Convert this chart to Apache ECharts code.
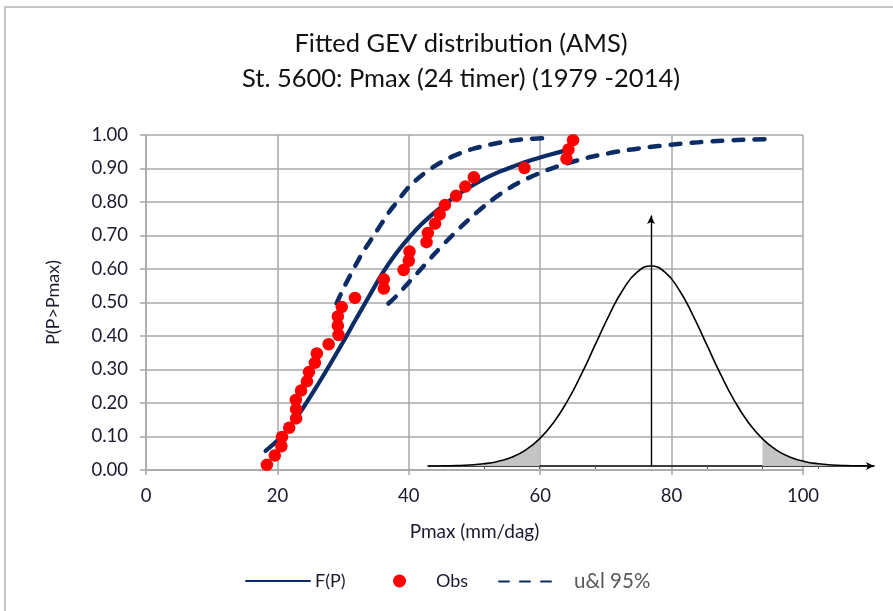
<!DOCTYPE html>
<html>
<head>
<meta charset="utf-8">
<script src="https://cdn.jsdelivr.net/npm/echarts@6/dist/echarts.min.js"></script>
<style>
html,body{margin:0;padding:0;background:#fff;}
#c{width:893px;height:611px;}
</style>
</head>
<body>
<div id="c"></div>
<script>
// ---- data ----
const titleLines = ['Fitted GEV distribution (AMS)', 'St. 5600: Pmax (24 timer) (1979 -2014)'];
const xTicks = [0, 20, 40, 60, 80, 100];

// Observations (Pmax mm/dag, plotting position)
const obsX = [18.4,19.6,20.6,20.7,21.8,22.85,22.85,22.8,23.6,24.5,24.8,25.7,26.0,27.8,29.3,29.2,29.2,29.8,31.8,36.2,36.2,39.2,40.0,40.1,42.7,42.9,44.0,44.7,45.5,47.2,48.6,49.9,57.6,64.0,64.3,65.0];
const obsP = [0.0155,0.0432,0.0709,0.0986,0.1262,0.1539,0.1816,0.2093,0.2370,0.2647,0.2924,0.3200,0.3477,0.3754,0.4031,0.4308,0.4585,0.4862,0.5138,0.5415,0.5692,0.5969,0.6246,0.6523,0.6800,0.7076,0.7353,0.7630,0.7907,0.8184,0.8461,0.8738,0.9014,0.9291,0.9568,0.9845];

// Fitted curve F(P)
const fitX = [18.2,20,22,24,26,28,30,32,34,36,38,40,42,44,46,48,50,52,54,56,58,60,62,64];
const fitP = [0.057,0.088,0.133,0.188,0.25,0.315,0.382,0.452,0.52,0.588,0.645,0.693,0.735,0.77,0.801,0.829,0.853,0.874,0.892,0.907,0.921,0.933,0.944,0.954];

// Upper 95% bound
const upX = [29.0,30,31,32,33,34,35,36,37,38,40,42,44,46,48,50,52,54,56,58,60.3];
const upP = [0.497,0.54,0.578,0.615,0.65,0.68,0.71,0.74,0.77,0.795,0.845,0.88,0.908,0.93,0.947,0.96,0.97,0.978,0.984,0.988,0.99];

// Lower 95% bound
const loX = [36.9,38,40,42,44,46,48,50,52,54,56,58,60,62,64,66,68,70,72,75,78,81,84,87,90,95];
const loP = [0.497,0.517,0.56,0.603,0.647,0.688,0.727,0.763,0.796,0.825,0.85,0.87,0.887,0.902,0.915,0.926,0.936,0.944,0.951,0.96,0.967,0.973,0.978,0.982,0.985,0.988];

// Inset bell curve (offset in sigma, relative height)
const bellZ = [-4,-3.75,-3.5,-3.25,-3,-2.75,-2.5,-2.25,-2,-1.75,-1.5,-1.25,-1,-0.75,-0.5,-0.25,0,0.25,0.5,0.75,1,1.25,1.5,1.75,2,2.25,2.5,2.75,3,3.25,3.5,3.75,4];
const bellH = [0.0003,0.0009,0.0022,0.0051,0.0111,0.0228,0.0439,0.0796,0.1353,0.2163,0.3247,0.4578,0.6065,0.7548,0.8825,0.9692,1,0.9692,0.8825,0.7548,0.6065,0.4578,0.3247,0.2163,0.1353,0.0796,0.0439,0.0228,0.0111,0.0051,0.0022,0.0009,0.0003];
const tailLimit = 2;
const bellTicks = [-3,-2,-1,1,2,3];

// ---- build ----
const zip = (a, b) => a.map((v, i) => [v, b[i]]);
const bell = zip(bellZ, bellH);
const leftTail = bell.filter(d => d[0] <= -tailLimit);
const rightTail = bell.filter(d => d[0] >= tailLimit);

const NAVY = '#0C2C66';
const FONT = 'Lato';
const GRID = '#a8a8a8';
const TXT = '#1a1a2e';

const chart = echarts.init(document.getElementById('c'), null, {renderer: 'canvas'});
const dashed = {color: NAVY, width: 4.5, type: [10, 11], cap: 'round'};
const hideSym = {opacity: 0};

chart.setOption({
  animation: false,
  backgroundColor: '#fff',
  title: {
    text: titleLines.join('\n'),
    left: 456, top: 21, textAlign: 'center',
    textStyle: {fontFamily: FONT, fontSize: 25.5, fontWeight: 'normal', color: '#111', lineHeight: 35}
  },
  graphic: [{
    type: 'rect', silent: true, z: -1,
    shape: {x: 5, y: 7, width: 1000, height: 1000},
    style: {fill: 'none', stroke: '#b4b4b4', lineWidth: 1.5}
  }],
  legend: [
    {data: [{name: 'F(P)', itemStyle: hideSym}], left: 240, top: 567, itemWidth: 64, itemHeight: 14,
     textStyle: {fontFamily: FONT, fontSize: 18, color: TXT}},
    {data: [{name: 'Obs', icon: 'circle'}], left: 388, top: 567, itemWidth: 63, itemHeight: 13,
     itemStyle: {opacity: 1},
     textStyle: {fontFamily: FONT, fontSize: 18, color: TXT}},
    {data: [{name: 'u&l 95%', itemStyle: hideSym}], left: 493, top: 566, itemWidth: 58, itemHeight: 14,
     textStyle: {fontFamily: FONT, fontSize: 20.5, color: '#595959', padding: [0, 0, 0, 12]}}
  ],
  grid: [
    {left: 146, right: 90, top: 135, bottom: 141, containLabel: false},
    {left: 428, right: 19, top: 216, bottom: 145, containLabel: false}
  ],
  xAxis: [{
    type: 'value', gridIndex: 0, min: xTicks[0], max: xTicks[xTicks.length - 1], interval: 20,
    name: 'Pmax (mm/dag)', nameLocation: 'middle', nameGap: 52,
    nameTextStyle: {fontFamily: FONT, fontSize: 19, color: TXT},
    axisLine: {show: true, onZero: false, lineStyle: {color: GRID, width: 1.5}},
    axisTick: {show: true, length: 5, lineStyle: {color: GRID, width: 1.5}},
    axisLabel: {fontFamily: FONT, fontSize: 18.5, color: TXT, margin: 17},
    splitLine: {show: true, lineStyle: {color: GRID, width: 1.5}}
  }, {
    type: 'value', gridIndex: 1, min: -4, max: 4,
    axisLine: {show: true, onZero: false, symbol: ['none', 'arrow'], symbolSize: [6, 8],
               lineStyle: {color: '#000', width: 1.6}},
    axisTick: {show: true, length: 3, customValues: bellTicks, lineStyle: {color: '#555', width: 1}},
    axisLabel: {show: false},
    splitLine: {show: false}
  }],
  yAxis: [{
    type: 'value', gridIndex: 0, min: 0, max: 1, interval: 0.1,
    name: 'P(P>Pmax)', nameLocation: 'middle', nameGap: 84, nameRotate: 90,
    nameTextStyle: {fontFamily: FONT, fontSize: 18, color: TXT},
    axisLine: {show: true, onZero: false, lineStyle: {color: GRID, width: 1.5}},
    axisTick: {show: true, length: 6, lineStyle: {color: GRID, width: 1.5}},
    axisLabel: {fontFamily: FONT, fontSize: 18.5, color: TXT, margin: 18,
                formatter: v => v.toFixed(2)},
    splitLine: {show: true, lineStyle: {color: GRID, width: 1.5}}
  }, {
    type: 'value', gridIndex: 1, min: 0, max: 1.25,
    axisLine: {show: true, onZero: true, symbol: ['none', 'arrow'], symbolSize: [6, 8],
               lineStyle: {color: '#000', width: 1.4}},
    axisTick: {show: false}, axisLabel: {show: false}, splitLine: {show: false}
  }],
  series: [
    {name: 'F(P)', type: 'line', xAxisIndex: 0, yAxisIndex: 0, data: zip(fitX, fitP),
     smooth: 0.3, symbol: 'none', showSymbol: false, z: 3,
     lineStyle: {color: NAVY, width: 4.2, cap: 'round'}, itemStyle: {color: NAVY}},
    {name: 'Obs', type: 'scatter', xAxisIndex: 0, yAxisIndex: 0, data: zip(obsX, obsP),
     symbol: 'circle', symbolSize: 12.5, z: 5, itemStyle: {color: '#FF0000', opacity: 1}},
    {name: 'u&l 95%', type: 'line', xAxisIndex: 0, yAxisIndex: 0, data: zip(upX, upP),
     smooth: 0.3, symbol: 'none', showSymbol: false, z: 3, clip: false,
     lineStyle: dashed, itemStyle: {color: NAVY}},
    {name: 'u&l 95%', type: 'line', xAxisIndex: 0, yAxisIndex: 0, data: zip(loX, loP),
     smooth: 0.3, symbol: 'none', showSymbol: false, z: 3, clip: false,
     lineStyle: dashed, itemStyle: {color: NAVY}},
    {name: 'tailL', type: 'line', xAxisIndex: 1, yAxisIndex: 1, data: leftTail,
     smooth: true, symbol: 'none', z: 2, lineStyle: {width: 0}, areaStyle: {color: '#c4c4c4', opacity: 1}},
    {name: 'tailR', type: 'line', xAxisIndex: 1, yAxisIndex: 1, data: rightTail,
     smooth: true, symbol: 'none', z: 2, lineStyle: {width: 0}, areaStyle: {color: '#c4c4c4', opacity: 1}},
    {name: 'bell', type: 'line', xAxisIndex: 1, yAxisIndex: 1, data: bell,
     smooth: true, symbol: 'none', z: 4, lineStyle: {color: '#000', width: 1.6}}
  ]
});
</script>
</body>
</html>
